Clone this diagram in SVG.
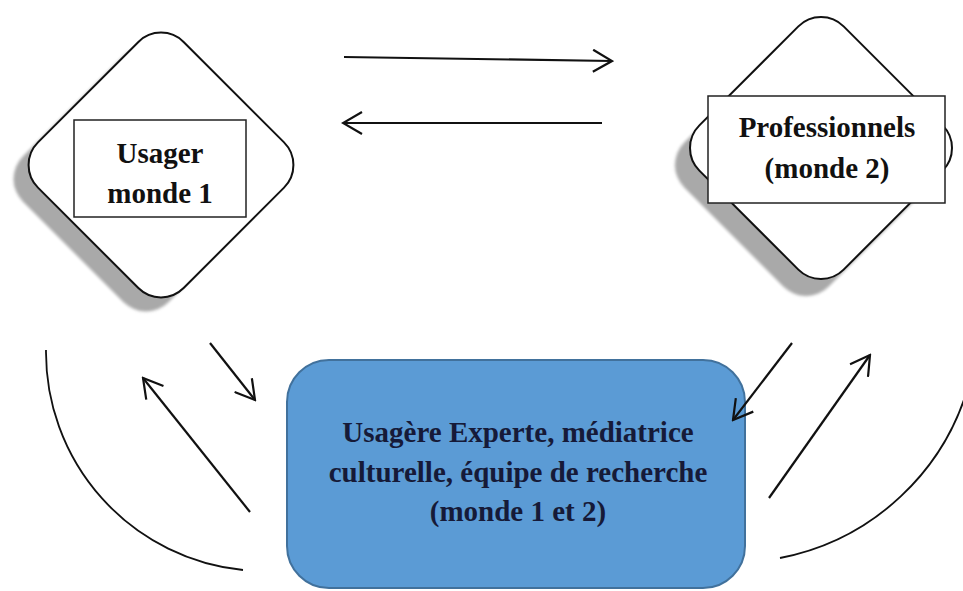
<svg xmlns="http://www.w3.org/2000/svg" width="963" height="591" viewBox="0 0 963 591">
<style>
.dia{fill:#ffffff;stroke:#111111;stroke-width:2}
.shadow{fill:#a9a9a9;filter:url(#blur)}
.tbox{fill:#ffffff;stroke:#222222;stroke-width:1.5}
.lbl{font-family:"Liberation Serif","Times New Roman",serif;font-weight:bold;font-size:29px;text-anchor:middle;fill:#111111}
.lbl2{font-family:"Liberation Serif","Times New Roman",serif;font-weight:bold;font-size:29px;text-anchor:middle;fill:#161a38}
.conn{fill:none;stroke:#111111;stroke-width:2.2}
.arc{fill:none;stroke:#111111;stroke-width:1.8}
</style>
<defs>
<filter id="blur" x="-10%" y="-10%" width="120%" height="120%"><feGaussianBlur stdDeviation="1.5"/></filter>
<marker id="arr" viewBox="0 0 22 24" refX="20" refY="12" markerWidth="22" markerHeight="24" markerUnits="userSpaceOnUse" orient="auto">
<path d="M1,1 L20,12 L1,23" fill="none" stroke="#111111" stroke-width="2.2"/>
</marker>
</defs>

<g id="usager">
<rect class="shadow" x="-103" y="-103" width="206" height="206" rx="32" transform="translate(146,179) rotate(45)"/>
<rect class="dia" x="-103" y="-103" width="206" height="206" rx="32" transform="translate(161,165) rotate(45)"/>
<rect class="tbox" x="74" y="120" width="172" height="97"/>
<text class="lbl" x="160" y="163">Usager</text>
<text class="lbl" x="160" y="203">monde 1</text>
</g>

<g id="professionnels">
<rect class="shadow" x="-102" y="-102" width="204" height="204" rx="32" transform="translate(806,165) rotate(45)"/>
<rect class="dia" x="-102" y="-102" width="204" height="204" rx="32" transform="translate(821,148) rotate(45)"/>
<rect class="tbox" x="708" y="96" width="237" height="107"/>
<text class="lbl" x="827" y="137">Professionnels</text>
<text class="lbl" x="827" y="178">(monde 2)</text>
</g>

<g id="experte">
<rect x="287" y="360" width="458" height="228" rx="42" fill="#5b9bd5" stroke="#41719c" stroke-width="2"/>
<text class="lbl2" x="518" y="442">Usagère Experte, médiatrice</text>
<text class="lbl2" x="518" y="482">culturelle, équipe de recherche</text>
<text class="lbl2" x="518" y="521">(monde 1 et 2)</text>
</g>

<g id="connectors">
<line class="conn" x1="344" y1="57" x2="612" y2="61" marker-end="url(#arr)"/>
<line class="conn" x1="602" y1="123" x2="343" y2="123" marker-end="url(#arr)"/>
<line class="conn" x1="210" y1="343" x2="255" y2="400" marker-end="url(#arr)"/>
<line class="conn" x1="250" y1="512" x2="143" y2="378" marker-end="url(#arr)"/>
<line class="conn" x1="792" y1="343" x2="733" y2="420" marker-end="url(#arr)"/>
<line class="conn" x1="769" y1="498" x2="870" y2="355" marker-end="url(#arr)"/>
<path class="arc" d="M46,350 A219,219 0 0 0 243,570"/>
<path class="arc" d="M780,558 A244,244 0 0 0 970,380"/>
</g>
</svg>
